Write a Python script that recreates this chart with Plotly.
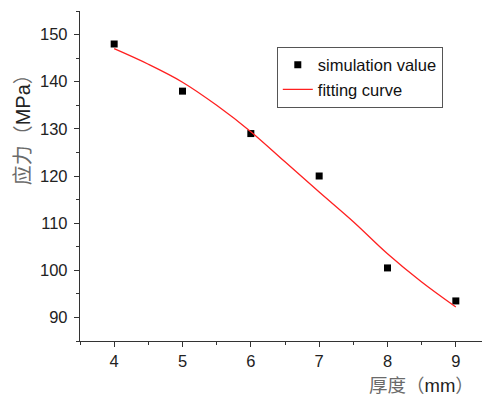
import plotly.graph_objects as go

# Simulation data
thickness = [4, 5, 6, 7, 8, 9]
stress_sim = [148.0, 138.0, 129.0, 120.0, 100.5, 93.5]

# Fitting curve values
fit_x = [4.0, 4.5, 5.0, 5.5, 6.0, 6.5, 7.0, 7.5, 8.0, 8.5, 9.0]
fit_y = [147.0, 143.7, 139.9, 135.0, 129.4, 123.0, 116.6, 110.3, 103.5, 97.5, 92.2]

x_ticks = [4, 5, 6, 7, 8, 9]
y_ticks = [90, 100, 110, 120, 130, 140, 150]

fig = go.Figure()
fig.add_trace(go.Scatter(
    x=thickness, y=stress_sim, mode="markers", name="simulation value",
    marker=dict(symbol="square", size=7, color="black"),
))
fig.add_trace(go.Scatter(
    x=fit_x, y=fit_y, mode="lines", name="fitting curve",
    line=dict(color="#ff2020", width=1.3, shape="spline"),
))

axis_common = dict(
    showline=True, linecolor="#333333", linewidth=1.3,
    ticks="outside", ticklen=5, tickwidth=1.3, tickcolor="#333333",
    showgrid=False, zeroline=False, mirror=False,
    tickfont=dict(family="Liberation Sans, Arial", size=16.5, color="#222222"),
)

fig.update_xaxes(range=[3.5, 9.5], tickvals=x_ticks, ticklabelstandoff=0,
                 minor=dict(dtick=0.5, tick0=3.5, ticklen=3, tickwidth=1.3,
                            tickcolor="#333333", ticks="outside"),
                 **axis_common)
fig.update_yaxes(range=[85, 155], tickvals=y_ticks, ticklabelstandoff=3,
                 minor=dict(dtick=5, tick0=85, ticklen=3, tickwidth=1.3,
                            tickcolor="#333333", ticks="outside"),
                 **axis_common)

cjk = "Noto Sans CJK SC"
fig.add_annotation(
    x=-0.142, y=0.656, xref="paper", yref="paper", showarrow=False,
    xanchor="center", yanchor="middle",
    textangle=-90,
    text=(f"<span style='font-family:{cjk};color:#6a6a6a'>应力</span>"
          f"<span style='font-family:{cjk};color:#6a6a6a'>（</span>"
          "<span style='color:#222222'>MPa</span>"
          f"<span style='font-family:{cjk};color:#6a6a6a'>）</span>"),
    font=dict(family="Liberation Sans, Arial", size=20, color="#222222"),
)
fig.add_annotation(
    x=0.833, y=-0.131, xref="paper", yref="paper", showarrow=False,
    xanchor="center", yanchor="middle",
    text=(f"<span style='font-family:{cjk};color:#6a6a6a'>厚度</span>"
          f"<span style='font-family:{cjk};color:#6a6a6a'>（</span>"
          "<span style='color:#222222'>mm</span>"
          f"<span style='font-family:{cjk};color:#6a6a6a'>）</span>"),
    font=dict(family="Liberation Sans, Arial", size=18.5, color="#222222"),
)

fig.update_layout(
    width=482, height=390,
    margin=dict(l=72, r=0, t=3, b=57),
    plot_bgcolor="white", paper_bgcolor="white",
    showlegend=True,
    legend=dict(x=0.48, y=0.892, xanchor="left", yanchor="top",
                bordercolor="#555555", borderwidth=1, bgcolor="white",
                font=dict(family="Liberation Sans, Arial", size=16.5, color="#111111")),
)

fig.write_html("out.html")
